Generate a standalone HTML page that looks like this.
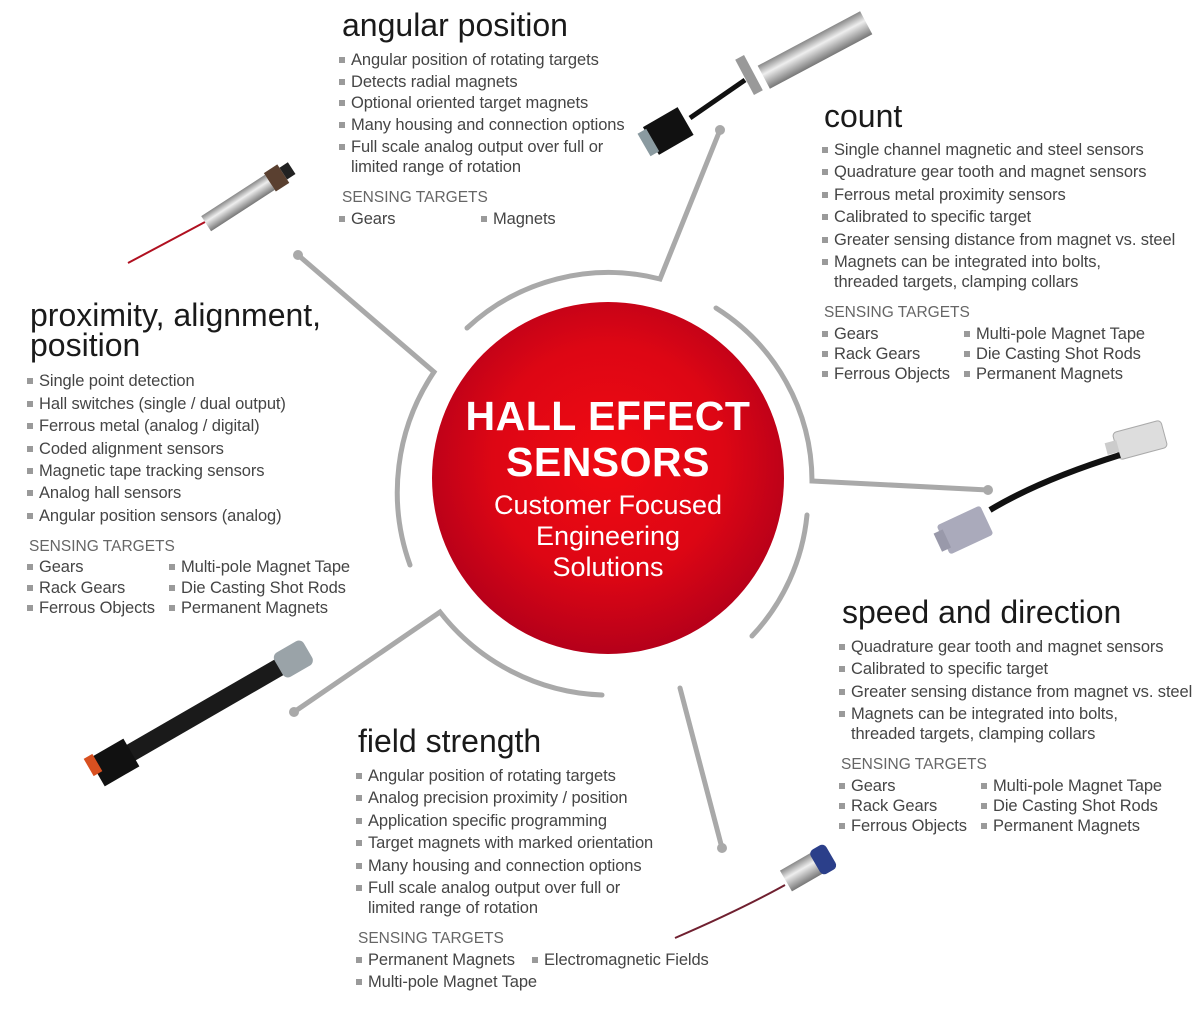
<!DOCTYPE html>
<html><head><meta charset="utf-8"><style>
body{margin:0;width:1200px;height:1010px;background:#fff;position:relative;overflow:hidden;font-family:"Liberation Sans",sans-serif}
.h{position:absolute;font-size:32px;color:#1a1a1a;letter-spacing:0px;line-height:30px;white-space:nowrap}
.t{position:absolute;font-size:16.5px;color:#454545;letter-spacing:-0.1px;line-height:20px;white-space:nowrap}
.b::before{content:"";position:absolute;left:-12px;top:7px;width:6px;height:6px;background:#9a9a9a}
.st{position:absolute;font-size:15.5px;color:#666;line-height:20px;white-space:nowrap}
svg{position:absolute;left:0;top:0}
.c{position:absolute;color:#fff;text-align:center;width:400px;left:408px;white-space:nowrap}
</style></head><body>
<svg width="1200" height="1010">
<defs><radialGradient id="g" cx="50%" cy="45%" r="55%"><stop offset="0" stop-color="#f00a12"/><stop offset="0.6" stop-color="#dd0614"/><stop offset="1" stop-color="#b5001a"/></radialGradient>
<linearGradient id="m" x1="0" y1="0" x2="0" y2="1"><stop offset="0" stop-color="#888"/><stop offset="0.4" stop-color="#eee"/><stop offset="1" stop-color="#777"/></linearGradient></defs>
<g fill="none" stroke="#a9a9a9" stroke-width="5" stroke-linecap="round">
<path d="M467 328 A208 208 0 0 1 660 279 L720 130"/>
<path d="M716 308 A205 205 0 0 1 812 481 L988 490"/>
<path d="M807 515 A205 205 0 0 1 752 636"/>
<path d="M680 688 L722 848"/>
<path d="M602 695 A215 215 0 0 1 440 612 L294 712"/>
<path d="M410 565 A215 215 0 0 1 434 372 L298 255"/>
</g>
<g fill="#a9a9a9"><circle cx="720" cy="130" r="5"/><circle cx="988" cy="490" r="5"/><circle cx="722" cy="848" r="5"/><circle cx="294" cy="712" r="5"/><circle cx="298" cy="255" r="5"/></g>
<circle cx="608" cy="478" r="176" fill="url(#g)"/>
<line x1="128" y1="263" x2="205" y2="222" stroke="#b01020" stroke-width="2"/>
<g transform="translate(238,203) rotate(-33)"><rect x="-38" y="-9" width="76" height="18" fill="url(#m)"/><rect x="38" y="-11" width="16" height="22" fill="#5a4030"/><rect x="54" y="-7" width="10" height="14" fill="#222"/></g>
<g transform="translate(815,50) rotate(-28)"><rect x="-58" y="-13" width="116" height="26" fill="url(#m)"/></g>
<g transform="translate(749,75) rotate(-28)"><rect x="-5" y="-20" width="10" height="40" fill="#999"/></g>
<line x1="745" y1="80" x2="690" y2="118" stroke="#111" stroke-width="5"/>
<g transform="translate(670,130) rotate(-30)"><rect x="-22" y="-16" width="40" height="32" fill="#111"/><rect x="-30" y="-13" width="10" height="26" fill="#8a9aa0"/></g>
<g transform="translate(1140,440) rotate(-15)"><rect x="-25" y="-14" width="50" height="28" rx="4" fill="#ddd" stroke="#aaa"/><rect x="-35" y="-6" width="12" height="12" fill="#ccc"/></g>
<path d="M1120 455 Q1040 480 990 510" stroke="#111" stroke-width="6" fill="none"/>
<g transform="translate(965,530) rotate(-25)"><rect x="-24" y="-16" width="48" height="32" rx="3" fill="#aab"/><rect x="-30" y="-10" width="10" height="20" fill="#99a"/></g>
<g transform="translate(205,710) rotate(-30)"><rect x="-90" y="-9" width="180" height="18" fill="#1a1a1a"/><rect x="-125" y="-16" width="40" height="32" fill="#111"/><rect x="85" y="-14" width="34" height="28" rx="6" fill="#9aa3a8"/></g>
<rect x="88" y="755" width="10" height="20" fill="#d85020" transform="rotate(-30 93 765)"/>
<path d="M675 938 Q740 910 785 885" stroke="#702030" stroke-width="2" fill="none"/>
<g transform="translate(805,870) rotate(-30)"><rect x="-22" y="-12" width="36" height="24" fill="url(#m)"/><rect x="12" y="-14" width="18" height="28" rx="5" fill="#2b3f8a"/></g>
</svg>
<div class="c" style="top:393px;font-size:41px;line-height:46px;font-weight:bold;letter-spacing:0.5px">HALL EFFECT<br>SENSORS</div>
<div class="c" style="top:490px;font-size:27px;line-height:31px">Customer Focused<br>Engineering<br>Solutions</div>

<div class="h" style="left:342px;top:10px">angular position</div>
<div class="t b" style="left:351px;top:50px">Angular position of rotating targets</div>
<div class="t b" style="left:351px;top:72px">Detects radial magnets</div>
<div class="t b" style="left:351px;top:93px">Optional oriented target magnets</div>
<div class="t b" style="left:351px;top:115px">Many housing and connection options</div>
<div class="t b" style="left:351px;top:137px">Full scale analog output over full or<br>limited range of rotation</div>
<div class="st" style="left:342px;top:188px">SENSING TARGETS</div>
<div class="t b" style="left:351px;top:209px">Gears</div>
<div class="t b" style="left:493px;top:209px">Magnets</div>

<div class="h" style="left:824px;top:101px">count</div>
<div class="t b" style="left:834px;top:140px">Single channel magnetic and steel sensors</div>
<div class="t b" style="left:834px;top:162px">Quadrature gear tooth and magnet sensors</div>
<div class="t b" style="left:834px;top:185px">Ferrous metal proximity sensors</div>
<div class="t b" style="left:834px;top:207px">Calibrated to specific target</div>
<div class="t b" style="left:834px;top:230px">Greater sensing distance from magnet vs. steel</div>
<div class="t b" style="left:834px;top:252px">Magnets can be integrated into bolts,<br>threaded targets, clamping collars</div>
<div class="st" style="left:824px;top:303px">SENSING TARGETS</div>
<div class="t b" style="left:834px;top:324px">Gears</div><div class="t b" style="left:976px;top:324px">Multi-pole Magnet Tape</div>
<div class="t b" style="left:834px;top:344px">Rack Gears</div><div class="t b" style="left:976px;top:344px">Die Casting Shot Rods</div>
<div class="t b" style="left:834px;top:364px">Ferrous Objects</div><div class="t b" style="left:976px;top:364px">Permanent Magnets</div>

<div class="h" style="left:30px;top:300px">proximity, alignment,<br>position</div>
<div class="t b" style="left:39px;top:371px">Single point detection</div>
<div class="t b" style="left:39px;top:394px">Hall switches (single / dual output)</div>
<div class="t b" style="left:39px;top:416px">Ferrous metal (analog / digital)</div>
<div class="t b" style="left:39px;top:439px">Coded alignment sensors</div>
<div class="t b" style="left:39px;top:461px">Magnetic tape tracking sensors</div>
<div class="t b" style="left:39px;top:483px">Analog hall sensors</div>
<div class="t b" style="left:39px;top:506px">Angular position sensors (analog)</div>
<div class="st" style="left:29px;top:537px">SENSING TARGETS</div>
<div class="t b" style="left:39px;top:557px">Gears</div><div class="t b" style="left:181px;top:557px">Multi-pole Magnet Tape</div>
<div class="t b" style="left:39px;top:578px">Rack Gears</div><div class="t b" style="left:181px;top:578px">Die Casting Shot Rods</div>
<div class="t b" style="left:39px;top:598px">Ferrous Objects</div><div class="t b" style="left:181px;top:598px">Permanent Magnets</div>

<div class="h" style="left:842px;top:597px">speed and direction</div>
<div class="t b" style="left:851px;top:637px">Quadrature gear tooth and magnet sensors</div>
<div class="t b" style="left:851px;top:659px">Calibrated to specific target</div>
<div class="t b" style="left:851px;top:682px">Greater sensing distance from magnet vs. steel</div>
<div class="t b" style="left:851px;top:704px">Magnets can be integrated into bolts,<br>threaded targets, clamping collars</div>
<div class="st" style="left:841px;top:755px">SENSING TARGETS</div>
<div class="t b" style="left:851px;top:776px">Gears</div><div class="t b" style="left:993px;top:776px">Multi-pole Magnet Tape</div>
<div class="t b" style="left:851px;top:796px">Rack Gears</div><div class="t b" style="left:993px;top:796px">Die Casting Shot Rods</div>
<div class="t b" style="left:851px;top:816px">Ferrous Objects</div><div class="t b" style="left:993px;top:816px">Permanent Magnets</div>

<div class="h" style="left:358px;top:726px">field strength</div>
<div class="t b" style="left:368px;top:766px">Angular position of rotating targets</div>
<div class="t b" style="left:368px;top:788px">Analog precision proximity / position</div>
<div class="t b" style="left:368px;top:811px">Application specific programming</div>
<div class="t b" style="left:368px;top:833px">Target magnets with marked orientation</div>
<div class="t b" style="left:368px;top:856px">Many housing and connection options</div>
<div class="t b" style="left:368px;top:878px">Full scale analog output over full or<br>limited range of rotation</div>
<div class="st" style="left:358px;top:929px">SENSING TARGETS</div>
<div class="t b" style="left:368px;top:950px">Permanent Magnets</div><div class="t b" style="left:544px;top:950px">Electromagnetic Fields</div>
<div class="t b" style="left:368px;top:972px">Multi-pole Magnet Tape</div>
</body></html>
